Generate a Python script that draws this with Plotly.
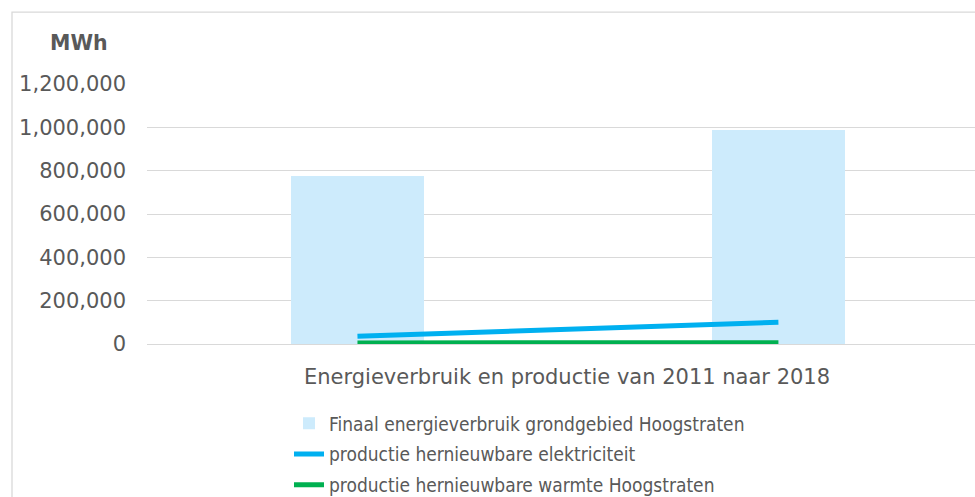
import plotly.graph_objects as go

years = [0, 1]
year_labels = ["2011", "2018"]
energieverbruik = [774000, 990000]
hernieuwbare_elektriciteit = [36000, 100000]
hernieuwbare_warmte = [5000, 6000]
y_ticks = [0, 200000, 400000, 600000, 800000, 1000000, 1200000]

FONT = "DejaVu Sans"
LEGFONT = "DejaVu Sans Condensed, DejaVu Sans"
GREY = "#595959"

L, T, B = 147, 84, 344.5
W, H = 975, 497
pw = W - L
ph = B - T

def px(x):
    return (x - L) / pw

def py(y):
    return (B - y) / ph

fig = go.Figure()
fig.add_trace(go.Bar(
    x=years, y=energieverbruik, width=0.316,
    marker=dict(color="#cdebfc", line=dict(width=0)),
    name="Finaal energieverbruik grondgebied Hoogstraten",
    legendgroup="a",
))
fig.add_trace(go.Scatter(
    x=years, y=hernieuwbare_elektriciteit, mode="lines",
    line=dict(color="#00b0f0", width=5),
    name="productie hernieuwbare elektriciteit",
    legendgroup="b",
))
fig.add_trace(go.Scatter(
    x=years, y=hernieuwbare_warmte, mode="lines",
    line=dict(color="#00b050", width=5),
    name="productie hernieuwbare warmte Hoogstraten",
    legendgroup="c",
))

fig.update_layout(
    width=W, height=H,
    margin=dict(l=L, r=0, t=T, b=H - B, pad=0, autoexpand=False),
    paper_bgcolor="white", plot_bgcolor="white",
    font=dict(family=FONT, color=GREY, size=21),
    bargap=0,
    showlegend=True,
    legend=dict(
        x=px(289), y=py(405), xanchor="left", yanchor="top",
        font=dict(size=19, color=GREY, family=LEGFONT),
        bgcolor="rgba(0,0,0,0)", tracegroupgap=3,
        itemwidth=30,
    ),
    xaxis=dict(
        range=[-0.5, 1.467], showgrid=False, zeroline=False,
        showticklabels=False, ticks="", fixedrange=True,
    ),
    yaxis=dict(
        range=[0, 1200000], tickvals=y_ticks, tickformat=",d",
        showgrid=True, gridcolor="#d9d9d9", gridwidth=1.3,
        zeroline=True, zerolinecolor="#d9d9d9", zerolinewidth=1.3,
        ticks="", ticklabelstandoff=20,
        tickfont=dict(size=21, color=GREY, family=FONT),
    ),
    shapes=[dict(
        type="rect", xref="paper", yref="paper",
        x0=px(12), y0=py(600), x1=px(1100), y1=py(12),
        line=dict(color="#d9d9d9", width=1.3), fillcolor="rgba(0,0,0,0)",
        layer="below",
    )],
    annotations=[
        dict(text="<b>MWh</b>", xref="paper", yref="paper",
             x=px(79), y=py(43), xanchor="center", yanchor="middle",
             showarrow=False,
             font=dict(size=20.5, color=GREY, family=FONT)),
        dict(text="Energieverbruik en productie van 2011 naar 2018",
             xref="paper", yref="paper", x=px(567), y=py(378),
             xanchor="center", yanchor="middle",
             showarrow=False, font=dict(size=21, color=GREY, family=FONT)),
    ],
)

fig.write_html("out.html", config={"displayModeBar": False},
               post_script="document.body.style.margin='0';")
